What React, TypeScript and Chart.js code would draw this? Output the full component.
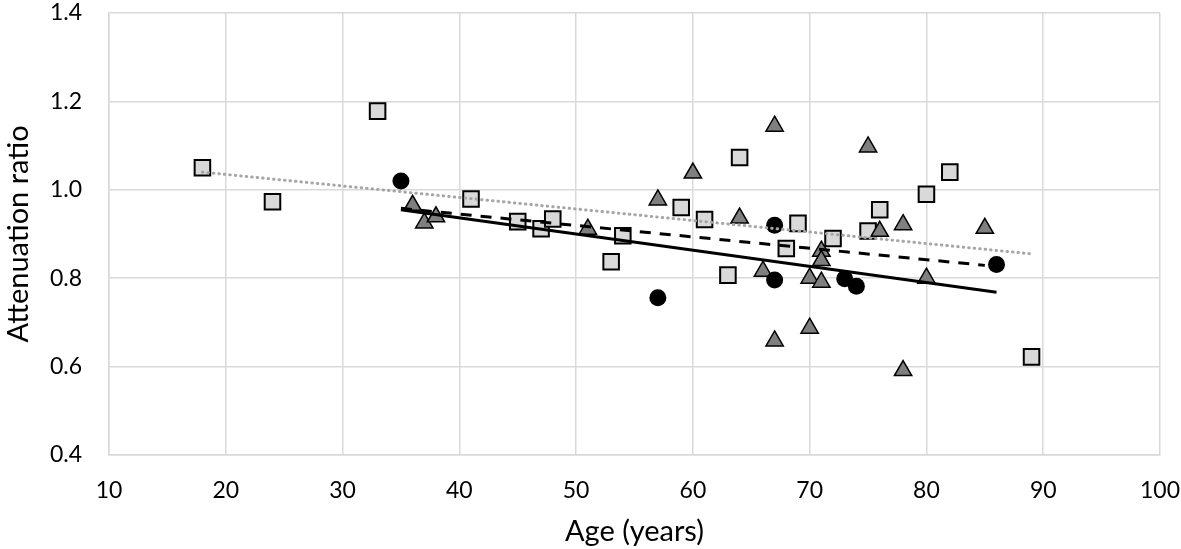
import React, { useEffect, useRef } from "react";
import { Chart, registerables } from "chart.js";

Chart.register(...registerables);

// Circles (black) – age and attenuation ratio
const circleAge = [35, 57, 67, 67, 73, 74, 86];
const circleRatio = [1.02, 0.756, 0.92, 0.796, 0.799, 0.782, 0.831];

// Triangles (dark grey)
const triangleAge = [36, 37, 38, 51, 57, 60, 64, 66, 67, 67, 70, 70, 71, 71, 71, 75, 76, 78, 78, 80, 85];
const triangleRatio = [0.965, 0.925, 0.939, 0.911, 0.977, 1.038, 0.936, 0.816, 1.144, 0.658, 0.8, 0.687, 0.861, 0.84, 0.791, 1.097, 0.906, 0.921, 0.591, 0.8, 0.913];

// Squares (light grey)
const squareAge = [18, 24, 33, 41, 45, 47, 48, 53, 54, 59, 61, 63, 64, 68, 69, 72, 75, 76, 80, 82, 89];
const squareRatio = [1.05, 0.973, 1.178, 0.979, 0.928, 0.912, 0.934, 0.837, 0.896, 0.96, 0.933, 0.807, 1.073, 0.867, 0.924, 0.89, 0.907, 0.955, 0.99, 1.04, 0.622];

// Linear trend lines (end points)
const circleTrendAge = [35, 86];
const circleTrendRatio = [0.955, 0.768];
const triangleTrendAge = [35, 85];
const triangleTrendRatio = [0.958, 0.829];
const squareTrendAge = [18, 89];
const squareTrendRatio = [1.04, 0.855];

// Axis ticks
const xTicks = [10, 20, 30, 40, 50, 60, 70, 80, 90, 100];
const yTicks = [0.4, 0.6, 0.8, 1.0, 1.2, 1.4];

const xTitle = "Age (years)";
const yTitle = "Attenuation ratio";

const toPoints = (xs: number[], ys: number[]) => xs.map((x, i) => ({ x, y: ys[i] }));

const FONT = "Lato, 'Open Sans', sans-serif";

export default function App() {
  const ref = useRef<HTMLCanvasElement | null>(null);

  useEffect(() => {
    if (!ref.current) return;
    const chart = new Chart(ref.current, {
      type: "scatter",
      data: {
        datasets: [
          {
            label: "Trend circles",
            data: toPoints(circleTrendAge, circleTrendRatio),
            showLine: true,
            borderColor: "#000000",
            borderWidth: 3,
            pointRadius: 0,
            fill: false,
            order: 0,
          },
          {
            label: "Trend triangles",
            data: toPoints(triangleTrendAge, triangleTrendRatio),
            showLine: true,
            borderColor: "#000000",
            borderWidth: 3,
            borderDash: [11, 9],
            pointRadius: 0,
            fill: false,
            order: 1,
          },
          {
            label: "Trend squares",
            data: toPoints(squareTrendAge, squareTrendRatio),
            showLine: true,
            borderColor: "#a6a6a6",
            borderWidth: 3,
            borderDash: [0.5, 5],
            borderCapStyle: "round",
            pointRadius: 0,
            fill: false,
            order: 2,
          },
          {
            label: "Circles",
            data: toPoints(circleAge, circleRatio),
            pointStyle: "circle",
            pointRadius: 8.5,
            backgroundColor: "#000000",
            borderColor: "#000000",
            borderWidth: 0,
            order: 3,
          },
          {
            label: "Triangles",
            data: toPoints(triangleAge, triangleRatio),
            pointStyle: "triangle",
            pointRadius: 10,
            backgroundColor: "#7f7f7f",
            borderColor: "#000000",
            borderWidth: 1.5,
            order: 4,
          },
          {
            label: "Squares",
            data: toPoints(squareAge, squareRatio),
            pointStyle: "rect",
            pointRadius: 11,
            backgroundColor: "#d9d9d9",
            borderColor: "#000000",
            borderWidth: 2,
            order: 5,
          },
        ],
      },
      options: {
        responsive: true,
        maintainAspectRatio: false,
        animation: false,
        layout: { padding: { left: 0, right: 21, top: 10, bottom: 0 } },
        plugins: {
          legend: { display: false },
          tooltip: { enabled: false },
        },
        scales: {
          x: {
            type: "linear",
            min: xTicks[0],
            max: xTicks[xTicks.length - 1],
            afterBuildTicks: (scale: any) => {
              scale.ticks = xTicks.map((v) => ({ value: v }));
            },
            afterFit: (scale: any) => {
              scale.height = 94;
              scale.paddingLeft = 0;
              scale.paddingRight = 0;
            },
            ticks: {
              color: "#000000",
              font: { family: FONT, size: 23 },
              padding: 3,
              maxRotation: 0,
              callback: (v: any) => String(v),
            },
            grid: {
              color: "#d9d9d9",
              lineWidth: 1.5,
              drawTicks: true,
              tickLength: 19,
              tickColor: "rgba(0,0,0,0)",
            },
            border: { color: "#d9d9d9", width: 1.5 },
            title: {
              display: true,
              text: xTitle,
              color: "#000000",
              font: { family: FONT, size: 29 },
              padding: { top: 0, bottom: 0 },
            },
          },
          y: {
            type: "linear",
            min: yTicks[0],
            max: yTicks[yTicks.length - 1],
            afterBuildTicks: (scale: any) => {
              scale.ticks = yTicks.map((v) => ({ value: v }));
            },
            afterFit: (scale: any) => {
              scale.width = 109;
              scale.paddingTop = 0;
              scale.paddingBottom = 0;
            },
            ticks: {
              color: "#000000",
              font: { family: FONT, size: 23 },
              padding: 3,
              callback: (v: any) => Number(v).toFixed(1),
            },
            grid: {
              color: "#d9d9d9",
              lineWidth: 1.5,
              drawTicks: true,
              tickLength: 24,
              tickColor: "rgba(0,0,0,0)",
            },
            border: { color: "#d9d9d9", width: 1.5 },
            title: {
              display: true,
              text: yTitle,
              color: "#000000",
              font: { family: FONT, size: 29 },
              padding: { top: 1, bottom: 0 },
            },
          },
        },
      },
    });
    return () => chart.destroy();
  }, []);

  return (
    <div style={{ position: "absolute", left: 0, top: 0, width: 1181, height: 549 }}>
      <canvas ref={ref} />
    </div>
  );
}
